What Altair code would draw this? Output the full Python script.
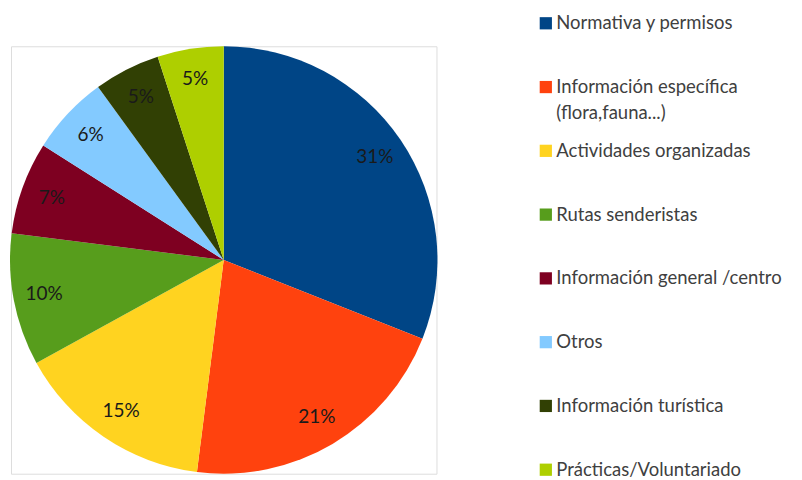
import altair as alt
import pandas as pd

categories = [
    "Normativa y permisos",
    "Información específica (flora,fauna...)",
    "Actividades organizadas",
    "Rutas senderistas",
    "Información general /centro",
    "Otros",
    "Información turística",
    "Prácticas/Voluntariado",
]
values = [31, 21, 15, 10, 7, 6, 5, 5]
labels = ["31%", "21%", "15%", "10%", "7%", "6%", "5%", "5%"]
legend_line1 = [
    "Normativa y permisos",
    "Información específica",
    "Actividades organizadas",
    "Rutas senderistas",
    "Información general /centro",
    "Otros",
    "Información turística",
    "Prácticas/Voluntariado",
]
legend_line2 = ["", "(flora,fauna...)", "", "", "", "", "", ""]
colors = ["#004586", "#ff420e", "#ffd320", "#579d1c", "#7e0021", "#83caff", "#314004", "#aecf00"]

df = pd.DataFrame({
    "cat": categories,
    "val": values,
    "lab": labels,
    "l1": legend_line1,
    "l2": legend_line2,
    "idx": list(range(len(categories))),
})

FONT = "Lato"
FS = 18.5
color = alt.Color("cat:N", scale=alt.Scale(domain=categories, range=colors), legend=None)
base = alt.Chart(df)

pie = base.mark_arc(radius=214, strokeWidth=0).encode(
    theta=alt.Theta("val:Q", stack=True),
    color=color,
    order=alt.Order("idx:Q"),
)
pie_text = base.mark_text(radius=183, font=FONT, fontSize=19, color="#1a1a1a").encode(
    theta=alt.Theta("val:Q", stack=True),
    order=alt.Order("idx:Q"),
    text="lab:N",
)

yscale = alt.Scale(type="point", domain=categories, range=[-23, 424], padding=0)
leg_sq = base.mark_square(size=150, opacity=1).encode(
    x=alt.value(535.5),
    y=alt.Y("cat:N", scale=yscale, axis=None),
    color=color,
)
leg_t1 = base.mark_text(align="left", baseline="middle", font=FONT, fontSize=FS, color="#404040").encode(
    x=alt.value(546),
    y=alt.Y("cat:N", scale=yscale, axis=None),
    text="l1:N",
)
leg_t2 = base.mark_text(align="left", baseline="middle", font=FONT, fontSize=FS, color="#404040", dy=26).encode(
    x=alt.value(546),
    y=alt.Y("cat:N", scale=yscale, axis=None),
    text="l2:N",
)

chart = alt.layer(pie, pie_text, leg_sq, leg_t1, leg_t2).properties(
    width=426,
    height=428,
    autosize=alt.AutoSizeParams(type="none"),
    padding={"left": 3, "top": 38, "right": 358, "bottom": 6},
).configure_view(stroke="#bfbfbf", strokeWidth=1.5).configure(background="white")

chart.save("out.html", embed_options={"renderer": "svg", "actions": False})
